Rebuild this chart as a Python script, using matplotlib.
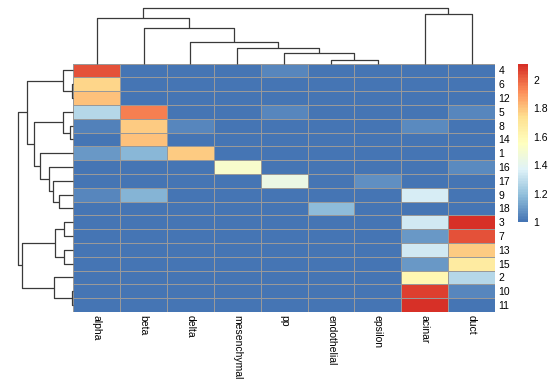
import matplotlib
matplotlib.use('Agg')
import numpy as np
import matplotlib.pyplot as plt
from matplotlib.colors import LinearSegmentedColormap, ListedColormap, Normalize

plt.rcParams['font.family'] = ['Liberation Sans', 'DejaVu Sans']

# cell types (columns) and clusters (rows), in the drawn order
cols = ['alpha', 'beta', 'delta', 'mesenchymal', 'pp',
        'endothelial', 'epsilon', 'acinar', 'duct']
rows = ['4', '6', '12', '5', '8', '14', '1', '16', '17',
        '9', '18', '3', '7', '13', '15', '2', '10', '11']

# values per cell type, one per row above
alpha = [2.04, 1.76, 1.81, 1.27, 1.04, 1.00, 1.09, 1.00, 1.00,
         1.05, 1.00, 1.00, 1.00, 1.00, 1.00, 1.00, 1.00, 1.00]
beta = [1.00, 1.00, 1.00, 1.95, 1.78, 1.80, 1.175, 1.00, 1.00,
        1.16, 1.00, 1.00, 1.00, 1.00, 1.00, 1.00, 1.00, 1.00]
delta = [1.00, 1.00, 1.00, 1.00, 1.05, 1.00, 1.78, 1.00, 1.00,
         1.00, 1.00, 1.00, 1.00, 1.00, 1.00, 1.00, 1.00, 1.00]
mesenchymal = [1.00, 1.00, 1.00, 1.00, 1.00, 1.00, 1.00, 1.52, 1.00,
               1.00, 1.00, 1.00, 1.00, 1.00, 1.00, 1.00, 1.00, 1.00]
pp = [1.05, 1.00, 1.00, 1.05, 1.00, 1.00, 1.00, 1.00, 1.44,
      1.00, 1.00, 1.00, 1.00, 1.00, 1.00, 1.00, 1.00, 1.00]
endothelial = [1.00, 1.00, 1.00, 1.00, 1.00, 1.00, 1.00, 1.00, 1.00,
               1.00, 1.18, 1.00, 1.00, 1.00, 1.00, 1.00, 1.00, 1.00]
epsilon = [1.00, 1.00, 1.00, 1.00, 1.00, 1.00, 1.00, 1.00, 1.07,
           1.00, 1.00, 1.00, 1.00, 1.00, 1.00, 1.00, 1.00, 1.00]
acinar = [1.00, 1.00, 1.00, 1.00, 1.06, 1.00, 1.00, 1.00, 1.00,
          1.35, 1.00, 1.34, 1.09, 1.34, 1.09, 1.61, 2.07, 2.10]
duct = [1.00, 1.00, 1.00, 1.05, 1.00, 1.00, 1.00, 1.06, 1.00,
        1.00, 1.00, 2.11, 2.04, 1.78, 1.675, 1.27, 1.05, 1.00]

# merges: (left, right, height); ints refer to earlier merges
col_merges = [
    ('endothelial', 'epsilon', 0.35),
    ('pp', 0, 1.08),
    ('mesenchymal', 1, 1.52),
    ('delta', 2, 2.12),
    ('beta', 3, 3.58),
    ('alpha', 4, 4.58),
    ('acinar', 'duct', 4.95),
    (5, 6, 5.52),
]
row_merges = [
    ('6', '12', 0.10),
    ('4', 0, 1.00),
    ('8', '14', 0.33),
    ('5', 2, 1.06),
    ('9', '18', 1.43),
    ('17', 4, 2.00),
    ('16', 5, 2.40),
    ('1', 6, 3.33),
    (3, 7, 3.90),
    (1, 8, 4.66),
    ('3', '7', 0.90),
    ('13', '15', 0.90),
    (10, 11, 1.83),
    ('10', '11', 0.16),
    ('2', 13, 1.90),
    (12, 14, 5.16),
    (9, 15, 5.50),
]

data = np.array([alpha, beta, delta, mesenchymal, pp,
                 endothelial, epsilon, acinar, duct]).T

# pheatmap default palette
base = ['#4575B4', '#91BFDB', '#E0F3F8', '#FFFFBF', '#FEE090', '#FC8D59', '#D73027']
cmap = ListedColormap(LinearSegmentedColormap.from_list('rdylbu', base)(np.linspace(0, 1, 100)))
norm = Normalize(vmin=data.min(), vmax=data.max())


def draw_tree(ax, merges, leaves, horizontal=False):
    pos = {name: i + 0.5 for i, name in enumerate(leaves)}
    hts = {name: 0.0 for name in leaves}
    for k, (a, b, h) in enumerate(merges):
        xs = [pos[a], pos[a], pos[b], pos[b]]
        ys = [hts[a], h, h, hts[b]]
        if horizontal:
            xs, ys = ys, xs
        ax.plot(xs, ys, color='#3a3a3a', lw=0.9, clip_on=False,
                solid_capstyle='butt')
        pos[k] = (pos[a] + pos[b]) / 2
        hts[k] = h
    ax.axis('off')


W, H = 558, 387
fig = plt.figure(figsize=(W / 100, H / 100), dpi=100)


def box(x0, y0, x1, y1):
    return [x0 / W, 1 - y1 / H, (x1 - x0) / W, (y1 - y0) / H]


ax = fig.add_axes(box(73.3, 63.5, 495, 312))
ax.pcolormesh(data, cmap=cmap, norm=norm, edgecolors='#999999', linewidth=0.6)
ax.set_xlim(0, len(cols))
ax.set_ylim(len(rows), 0)
for s in ax.spines.values():
    s.set_visible(False)
ax.set_xticks(np.arange(len(cols)) + 0.5)
ax.set_xticklabels(cols, rotation=270, ha='center', va='top', fontsize=7.5)
ax.yaxis.tick_right()
ax.set_yticks(np.arange(len(rows)) + 0.5)
ax.set_yticklabels(rows, fontsize=7.5)
ax.tick_params(axis='x', length=0, pad=2.5)
ax.tick_params(axis='y', length=0, pad=2.5)

# column tree on top
axc = fig.add_axes(box(73.3, 8.3, 495, 63.5))
draw_tree(axc, col_merges, cols)
axc.set_xlim(0, len(cols))
axc.set_ylim(0, col_merges[-1][2])

# row tree on the left
axr = fig.add_axes(box(18.3, 63.5, 73.3, 312))
draw_tree(axr, row_merges, rows, horizontal=True)
axr.set_ylim(len(rows), 0)
axr.set_xlim(row_merges[-1][2], 0)

# legend
cax = fig.add_axes(box(518.3, 64.3, 528.3, 222))
cb = fig.colorbar(plt.cm.ScalarMappable(norm=norm, cmap=cmap), cax=cax,
                  ticks=[1, 1.2, 1.4, 1.6, 1.8, 2])
cb.outline.set_visible(False)
cb.ax.set_yticklabels(['1', '1.2', '1.4', '1.6', '1.8', '2'], fontsize=7.5)
cb.ax.tick_params(length=0, pad=3.5)

fig.savefig('out.png', dpi=100)
